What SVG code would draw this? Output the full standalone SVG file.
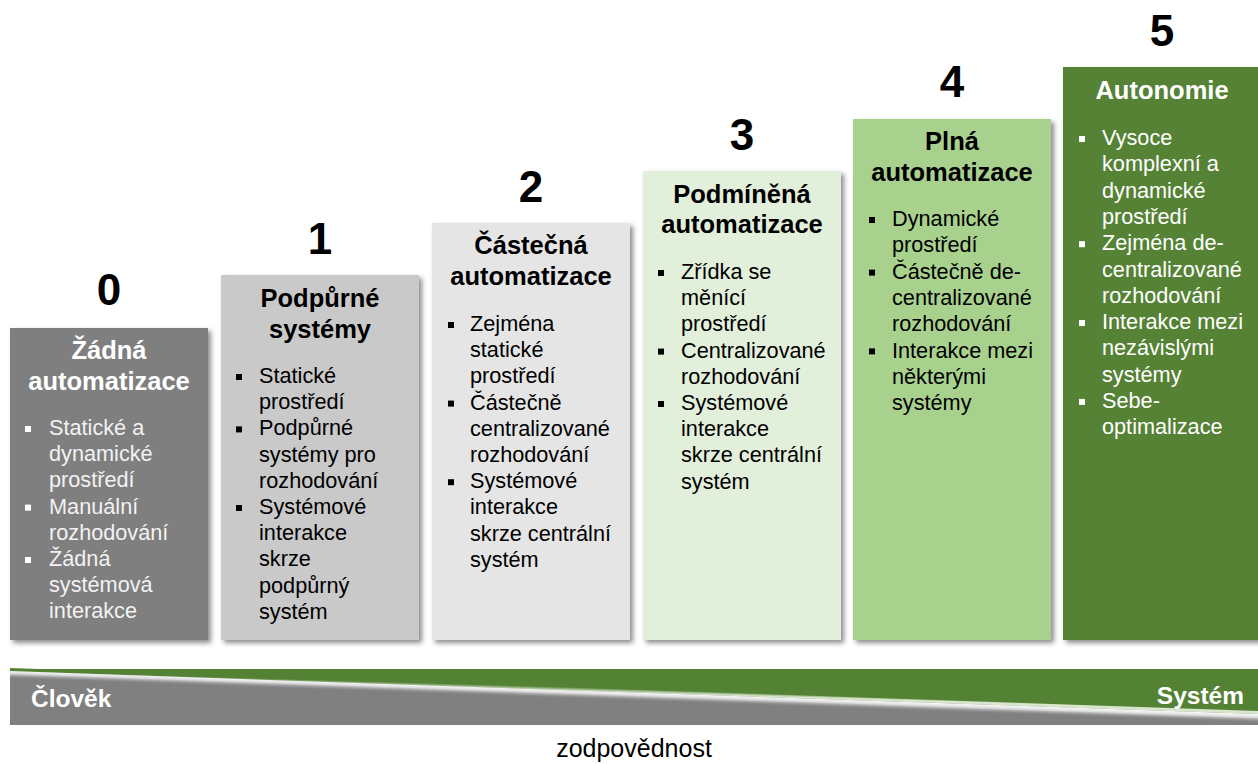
<svg xmlns="http://www.w3.org/2000/svg" width="1258" height="764" viewBox="0 0 1258 764">
<defs>
<filter id="sh" x="-10%" y="-10%" width="130%" height="130%">
<feDropShadow dx="3" dy="3" stdDeviation="2.5" flood-color="#000" flood-opacity="0.45"/>
</filter>
<linearGradient id="hl" gradientUnits="userSpaceOnUse" x1="634" y1="692.5" x2="633.7" y2="701">
<stop offset="0" stop-color="#ffffff" stop-opacity="0.95"/>
<stop offset="0.35" stop-color="#e6e6e6" stop-opacity="0.9"/>
<stop offset="1" stop-color="#808080" stop-opacity="0"/>
</linearGradient>
<linearGradient id="gl" gradientUnits="userSpaceOnUse" x1="634" y1="692.5" x2="634.1" y2="689">
<stop offset="0" stop-color="#d9e6cf"/>
<stop offset="1" stop-color="#548235"/>
</linearGradient>
</defs>
<style>
.num{font-family:"Liberation Sans",Arial,sans-serif;font-weight:bold;font-size:44px;text-anchor:middle;fill:#000}
.ttl{font-family:"Liberation Sans",Arial,sans-serif;font-weight:bold;font-size:25.5px;text-anchor:middle}
.bl{font-family:"Liberation Sans",Arial,sans-serif;font-size:21.7px}
.dk{fill:#000}
.lt{fill:#ffffff}
.box{filter:url(#sh)}
.lbl{font-family:"Liberation Sans",Arial,sans-serif;font-weight:bold;font-size:24.5px;fill:#fff}
</style>
<rect width="1258" height="764" fill="#fff"/>

<g id="level0">
<rect class="box" x="10" y="328" width="198" height="312" fill="#7f7f7f"/>
<text class="num" x="109" y="305">0</text>
<text class="ttl lt" x="109" y="359">Žádná<tspan x="109" dy="31">automatizace</tspan></text>
<g fill="#fff"><rect x="25" y="426" width="6" height="6"/><rect x="25" y="504.6" width="6" height="6"/><rect x="25" y="557" width="6" height="6"/></g>
<text class="bl" fill="#f2f2f2" x="49" y="435">Statické a<tspan x="49" dy="26.2">dynamické</tspan><tspan x="49" dy="26.2">prostředí</tspan><tspan x="49" dy="26.2">Manuální</tspan><tspan x="49" dy="26.2">rozhodování</tspan><tspan x="49" dy="26.2">Žádná</tspan><tspan x="49" dy="26.2">systémová</tspan><tspan x="49" dy="26.2">interakce</tspan></text>
</g>

<g id="level1">
<rect class="box" x="221" y="275" width="198" height="365" fill="#c9c9c9"/>
<text class="num" x="320" y="254">1</text>
<text class="ttl dk" x="320" y="307">Podpůrné<tspan x="320" dy="31">systémy</tspan></text>
<g fill="#000"><rect x="236" y="374" width="6" height="6"/><rect x="236" y="426.4" width="6" height="6"/><rect x="236" y="505" width="6" height="6"/></g>
<text class="bl dk" x="259" y="383">Statické<tspan x="259" dy="26.2">prostředí</tspan><tspan x="259" dy="26.2">Podpůrné</tspan><tspan x="259" dy="26.2">systémy pro</tspan><tspan x="259" dy="26.2">rozhodování</tspan><tspan x="259" dy="26.2">Systémové</tspan><tspan x="259" dy="26.2">interakce</tspan><tspan x="259" dy="26.2">skrze</tspan><tspan x="259" dy="26.2">podpůrný</tspan><tspan x="259" dy="26.2">systém</tspan></text>
</g>

<g id="level2">
<rect class="box" x="432" y="223" width="198" height="417" fill="#e5e5e5"/>
<text class="num" x="531" y="202">2</text>
<text class="ttl dk" x="531" y="254">Částečná<tspan x="531" dy="31">automatizace</tspan></text>
<g fill="#000"><rect x="448" y="322" width="6" height="6"/><rect x="448" y="400.6" width="6" height="6"/><rect x="448" y="479.2" width="6" height="6"/></g>
<text class="bl dk" x="470" y="331">Zejména<tspan x="470" dy="26.2">statické</tspan><tspan x="470" dy="26.2">prostředí</tspan><tspan x="470" dy="26.2">Částečně</tspan><tspan x="470" dy="26.2">centralizované</tspan><tspan x="470" dy="26.2">rozhodování</tspan><tspan x="470" dy="26.2">Systémové</tspan><tspan x="470" dy="26.2">interakce</tspan><tspan x="470" dy="26.2">skrze centrální</tspan><tspan x="470" dy="26.2">systém</tspan></text>
</g>

<g id="level3">
<rect class="box" x="643" y="171" width="198" height="469" fill="#e2efda"/>
<text class="num" x="742" y="150">3</text>
<text class="ttl dk" x="742" y="203">Podmíněná<tspan x="742" dy="30">automatizace</tspan></text>
<g fill="#000"><rect x="658" y="270" width="6" height="6"/><rect x="658" y="348.6" width="6" height="6"/><rect x="658" y="401" width="6" height="6"/></g>
<text class="bl dk" x="681" y="279">Zřídka se<tspan x="681" dy="26.2">měnící</tspan><tspan x="681" dy="26.2">prostředí</tspan><tspan x="681" dy="26.2">Centralizované</tspan><tspan x="681" dy="26.2">rozhodování</tspan><tspan x="681" dy="26.2">Systémové</tspan><tspan x="681" dy="26.2">interakce</tspan><tspan x="681" dy="26.2">skrze centrální</tspan><tspan x="681" dy="26.2">systém</tspan></text>
</g>

<g id="level4">
<rect class="box" x="853" y="119" width="198" height="521" fill="#a9d18e"/>
<text class="num" x="952" y="97">4</text>
<text class="ttl dk" x="952" y="150">Plná<tspan x="952" dy="31">automatizace</tspan></text>
<g fill="#000"><rect x="869" y="217" width="6" height="6"/><rect x="869" y="269.6" width="6" height="6"/><rect x="869" y="348.4" width="6" height="6"/></g>
<text class="bl dk" x="892" y="226">Dynamické<tspan x="892" dy="26.3">prostředí</tspan><tspan x="892" dy="26.3">Částečně de-</tspan><tspan x="892" dy="26.3">centralizované</tspan><tspan x="892" dy="26.3">rozhodování</tspan><tspan x="892" dy="26.3">Interakce mezi</tspan><tspan x="892" dy="26.3">některými</tspan><tspan x="892" dy="26.3">systémy</tspan></text>
</g>

<g id="level5">
<rect class="box" x="1063" y="67" width="198" height="573" fill="#548235"/>
<text class="num" x="1162" y="46">5</text>
<text class="ttl lt" x="1162" y="99">Autonomie</text>
<g fill="#fff"><rect x="1079" y="136" width="6" height="6"/><rect x="1079" y="241.2" width="6" height="6"/><rect x="1079" y="320" width="6" height="6"/><rect x="1079" y="398.9" width="6" height="6"/></g>
<text class="bl lt" x="1102" y="145">Vysoce<tspan x="1102" dy="26.3">komplexní a</tspan><tspan x="1102" dy="26.3">dynamické</tspan><tspan x="1102" dy="26.3">prostředí</tspan><tspan x="1102" dy="26.3">Zejména de-</tspan><tspan x="1102" dy="26.3">centralizované</tspan><tspan x="1102" dy="26.3">rozhodování</tspan><tspan x="1102" dy="26.3">Interakce mezi</tspan><tspan x="1102" dy="26.3">nezávislými</tspan><tspan x="1102" dy="26.3">systémy</tspan><tspan x="1102" dy="26.3">Sebe-</tspan><tspan x="1102" dy="26.3">optimalizace</tspan></text>
</g>

<g id="responsibility">
<rect x="10" y="669" width="1248" height="56" fill="#808080"/>
<polygon points="10,669 1258,669 1258,714 10,671" fill="#548235"/>
<polygon points="10,668 1258,711 1258,714 10,671" fill="url(#gl)"/>
<polygon points="10,671 1258,714 1258,724 10,681" fill="url(#hl)"/>
<text class="lbl" x="31" y="707">Člověk</text>
<text class="lbl" x="1244" y="704" text-anchor="end">Systém</text>
<text x="634" y="757" text-anchor="middle" font-family="Liberation Sans, Arial, sans-serif" font-size="25" fill="#000">zodpovědnost</text>
</g>
</svg>
